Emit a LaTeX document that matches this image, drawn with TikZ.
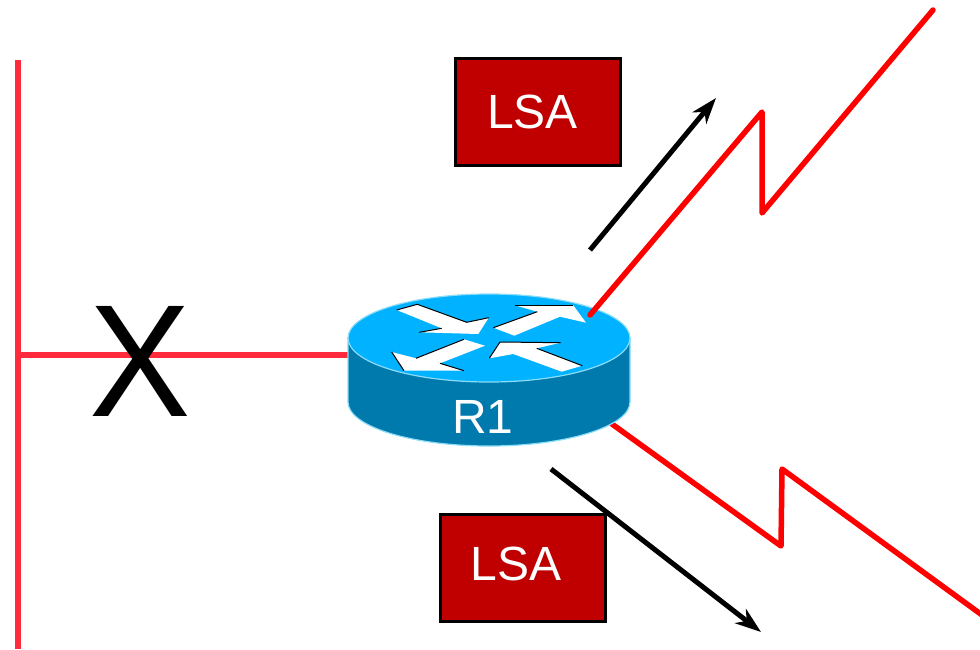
\documentclass[tikz,border=0pt]{standalone}
\usepackage{fontspec}
\setmainfont{Liberation Sans}
\usetikzlibrary{arrows.meta,shapes.geometric}
\definecolor{lanred}{HTML}{FF2A3C}
\definecolor{lsared}{HTML}{C00000}
\definecolor{routertop}{HTML}{00B2FF}
\definecolor{routerside}{HTML}{0079AD}
\definecolor{routeredge}{HTML}{8ADCF7}
\tikzset{
  lan/.style={draw=lanred,line width=6pt},
  wan/.style={draw=red,line width=5.5pt,line join=round,line cap=round},
  flow/.style={draw=black,line width=5pt,-{Stealth[length=26pt,width=18pt,inset=8pt]}},
  lsabox/.style={draw=black,line width=3pt,fill=lsared,text=white,minimum width=165pt,minimum height=107pt,inner sep=0pt,font=\fontsize{48}{48}\selectfont},
  routerbody/.style={draw=routeredge,line width=1.2pt,fill=routerside},
  routerface/.style={draw=routeredge,line width=1.2pt,fill=routertop},
  routertext/.style={text=white,inner sep=0pt,font=\fontsize{48}{48}\selectfont},
  mark x/.style={text=black,inner sep=0pt,font=\fontsize{160}{160}\selectfont},
  arrowface/.style={fill=white,draw=none},
  arrowshade/.style={draw=black,line width=1pt}
}
\begin{document}
\begin{tikzpicture}[x=1pt,y=-1pt]
\useasboundingbox (0,0) rectangle (980,649);
\coordinate (lantop) at (18,60);
\coordinate (lanbot) at (18,649);
\coordinate (lantap) at (18,355);
\coordinate (rleft) at (348,355);
\coordinate (rup) at (590,315);
\coordinate (rdown) at (612,424);
\coordinate (u1) at (762,112);
\coordinate (u2) at (762,213);
\coordinate (u3) at (933,10);
\coordinate (d1) at (781,546);
\coordinate (d2) at (782,469);
\coordinate (d3) at (982,615);
\coordinate (fu1) at (590,250);
\coordinate (fu2) at (716,98);
\coordinate (fd1) at (551,469);
\coordinate (fd2) at (761,632);
\draw[lan] (lantop) -- (lanbot);
\draw[lan] (lantap) -- (rleft);
\draw[wan] (rdown) -- (d1) -- (d2) -- (d3);
% router
\path[routerbody] (348,338) -- (348,402) arc[start angle=180,end angle=0,x radius=141,y radius=44] -- (630,338) -- cycle;
\path[routerface] (489,338) ellipse[x radius=141,y radius=44];
\fill[arrowface] (396.7,310) -- (417.3,304.3) -- (466.7,322.3) -- (488.7,317.7) -- (478.3,334) -- (419.3,332.3) -- (441.7,328.3) -- cycle;
\draw[arrowshade] (396.7,310) -- (417.3,304.3) -- (466.7,322.3) -- (488.7,317.7);
\draw[arrowshade] (419.3,332.3) -- (441.7,328.3);
\fill[arrowface] (493.3,327.7) -- (537.3,311.7) -- (515,305.3) -- (573.3,305.3) -- (586,322.7) -- (560,316.7) -- (514.3,335.7) -- cycle;
\draw[arrowshade] (493.3,327.7) -- (537.3,311.7);
\draw[arrowshade] (515,305.3) -- (573.3,305.3);
\fill[arrowface] (391.7,352) -- (416,358.3) -- (464,339.3) -- (485,345.7) -- (440,363.3) -- (464,370.7) -- (404,370.7) -- cycle;
\draw[arrowshade] (391.7,352) -- (404,370.7);
\draw[arrowshade] (416,358.3) -- (464,339.3);
\draw[arrowshade] (440,363.3) -- (464,370.7);
\fill[arrowface] (489.3,358.3) -- (500,342) -- (560.7,342.7) -- (536.7,348.3) -- (582.3,365.7) -- (561.7,371.7) -- (513.3,354) -- cycle;
\draw[arrowshade] (489.3,358.3) -- (500,342) -- (560.7,342.7);
\draw[arrowshade] (536.7,348.3) -- (582.3,365.7);
\node[routertext] (r1) at (483,417) {R1};
\draw[wan] (rup) -- (u1) -- (u2) -- (u3);
\node[mark x] (x) at (140,361) {\scalebox{.95}[1]{X}};
\node[lsabox] (lsa1) at (537.5,111.5) {\raisebox{-4pt}{LSA}\kern10pt};
\node[lsabox] (lsa2) at (522.5,568) {\raisebox{8pt}{LSA}\kern13pt};
\draw[flow] (fu1) -- (fu2);
\draw[flow] (fd1) -- (fd2);
\end{tikzpicture}
\end{document}
